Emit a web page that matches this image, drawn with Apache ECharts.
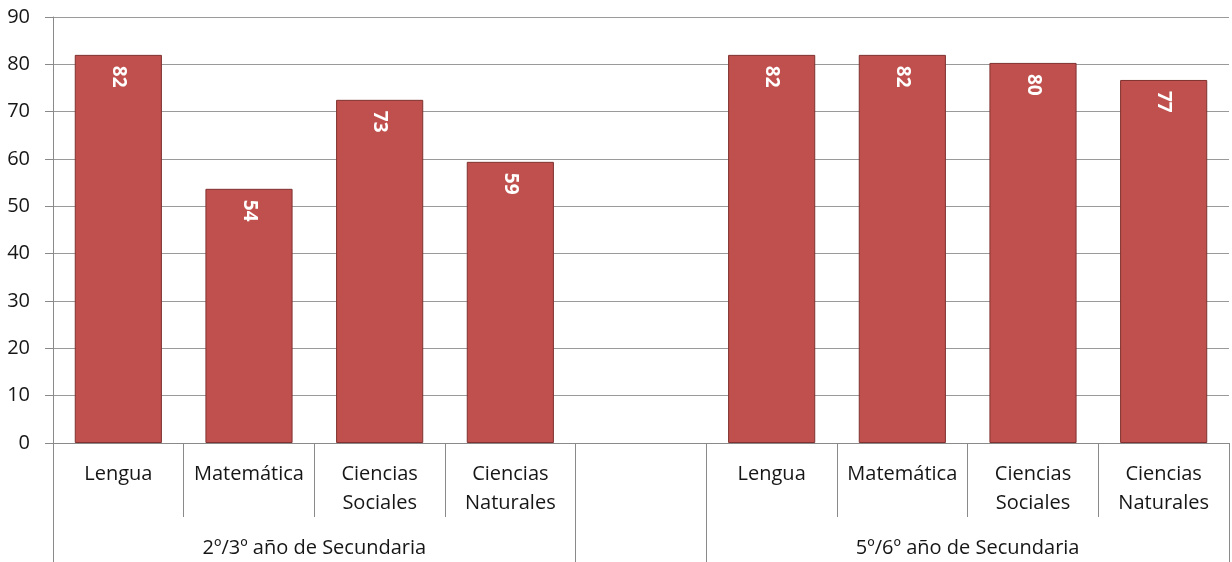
<!DOCTYPE html>
<html><head><meta charset="utf-8">
<script src="https://cdn.jsdelivr.net/npm/echarts@6/dist/echarts.min.js"></script>
<style>html,body{margin:0;padding:0;background:#fff}#c{width:1232px;height:562px}</style>
</head><body><div id="c"></div>
<script>
const categories = ['Lengua','Matemática','Ciencias\nSociales','Ciencias\nNaturales','','Lengua','Matemática','Ciencias\nSociales','Ciencias\nNaturales'];
const values = [82, 53.7, 72.5, 59.4, null, 82, 82, 80.3, 76.7];
const groups = ['2º/3º año de Secundaria', '5º/6º año de Secundaria'];
const groupCenters = [2, 7];
const innerSeparators = [1, 2, 3, 6, 7, 8];
const groupSeparators = [0, 4, 5, 9];
const yTicks = [0,10,20,30,40,50,60,70,80,90];

const FONT = '"Open Sans", sans-serif';
const TXT = '#161616';
const chart = echarts.init(document.getElementById('c'));
chart.setOption({
  animation: false,
  grid: {left: 53, right: 3, top: 17, bottom: 119},
  xAxis: [
    {type: 'category', data: categories, position: 'bottom',
     axisLine: {lineStyle: {color: '#8a8a8a', width: 1}},
     axisTick: {show: false},
     axisLabel: {interval: 0, fontSize: 20, lineHeight: 29, margin: 17, color: TXT, fontFamily: FONT, verticalAlign: 'top'}},
    {type: 'value', min: 0, max: 9, position: 'bottom',
     axisLine: {show: false}, splitLine: {show: false},
     axisTick: {show: true, customValues: innerSeparators, length: 74, inside: false, lineStyle: {color: '#8a8a8a'}},
     axisLabel: {show: false}},
    {type: 'value', min: 0, max: 9, position: 'bottom',
     axisLine: {show: false}, splitLine: {show: false},
     axisTick: {show: true, customValues: groupSeparators, length: 119, lineStyle: {color: '#8a8a8a'}},
     axisLabel: {show: true, customValues: groupCenters, margin: 95, fontSize: 20, color: TXT, fontFamily: FONT,
       formatter: v => groups[groupCenters.indexOf(v)] || ''}}
  ],
  yAxis: {type: 'value', min: 0, max: 90, interval: 10,
    axisLine: {show: true, lineStyle: {color: '#8a8a8a'}},
    axisTick: {show: true, length: 8, lineStyle: {color: '#8a8a8a'}},
    splitLine: {lineStyle: {color: '#9a9a9a'}},
    axisLabel: {fontSize: 20, color: TXT, fontFamily: FONT, margin: 23,
      formatter: v => yTicks.includes(v) ? String(v) : ''}},
  series: [{
    type: 'bar', xAxisIndex: 0, data: values, barWidth: '66.7%',
    itemStyle: {color: '#C0504D', borderColor: '#7f3230', borderWidth: 1},
    label: {show: true, position: 'insideTop', distance: 11, rotate: -90, align: 'left', verticalAlign: 'middle',
      color: '#fff', fontWeight: 'bold', fontSize: 19, fontFamily: FONT,
      formatter: p => Math.round(p.value)}
  }]
});
</script></body></html>
